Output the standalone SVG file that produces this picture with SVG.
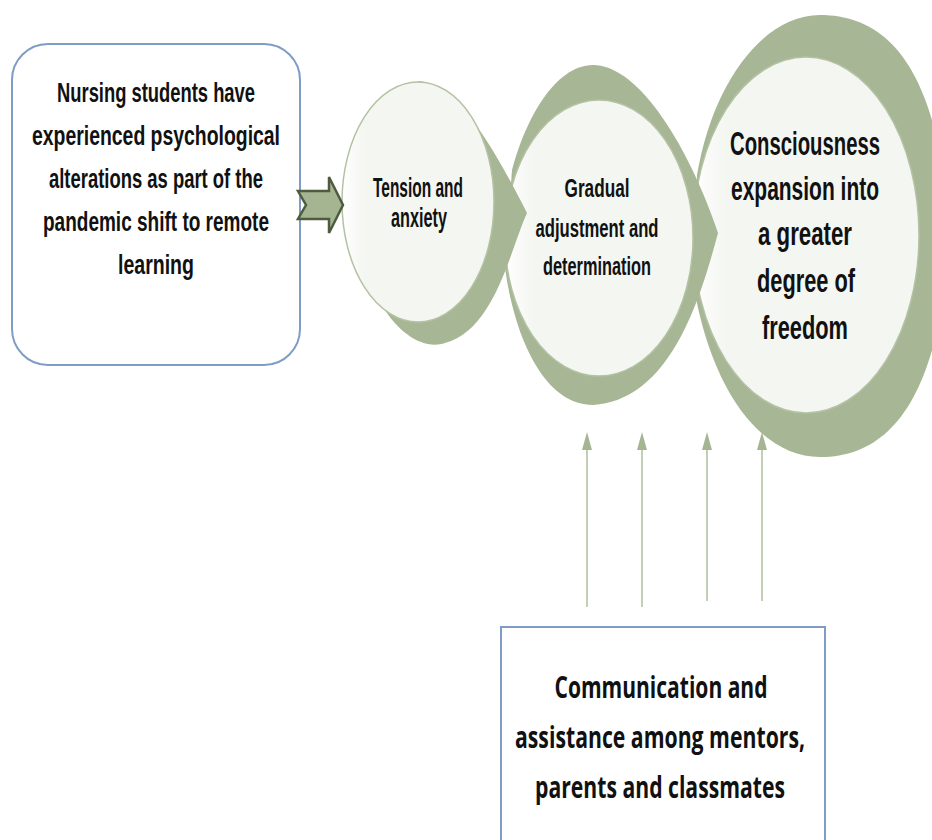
<svg xmlns="http://www.w3.org/2000/svg" width="932" height="840" viewBox="0 0 932 840">
  <style>
    .green { fill: #a7b694; stroke: none; }
    .light { fill: url(#lightFill); stroke: #b4c2a3; stroke-width: 1.5; }
    .t { font-family: "Liberation Sans", Arial, sans-serif; font-weight: bold; fill: #111; text-anchor: middle; }
    .t2 { font-family: "Open Sans", "Liberation Sans", Arial, sans-serif; font-weight: bold; fill: #111; text-anchor: middle; }
    .box { fill: #ffffff; stroke: #7f9cc6; stroke-width: 2; }
    .vline { stroke: #c4cfb7; stroke-width: 2; fill: none; }
  </style>
  <defs>
    <linearGradient id="lightFill" x1="0" y1="0" x2="1" y2="0">
      <stop offset="0" stop-color="#ffffff"/>
      <stop offset="0.15" stop-color="#f4f6f1"/>
      <stop offset="1" stop-color="#f4f6f1"/>
    </linearGradient>
    <marker id="head" viewBox="0 0 18 10" markerWidth="18" markerHeight="10" refX="0" refY="5" orient="auto" markerUnits="userSpaceOnUse">
      <path d="M0,0 L18,5 L0,10 Z" fill="#a5b592"/>
    </marker>
  </defs>
  <rect width="932" height="840" fill="#ffffff"/>

  <g id="node-source">
    <rect class="box" x="12" y="44" width="288" height="321" rx="36" ry="36"/>
    <text class="t" font-size="28" x="156" y="102" textLength="198" lengthAdjust="spacingAndGlyphs">Nursing students have</text>
    <text class="t" font-size="28" x="156" y="145" textLength="248" lengthAdjust="spacingAndGlyphs">experienced psychological</text>
    <text class="t" font-size="28" x="156" y="188" textLength="214" lengthAdjust="spacingAndGlyphs">alterations as part of the</text>
    <text class="t" font-size="28" x="156" y="231" textLength="226" lengthAdjust="spacingAndGlyphs">pandemic shift to remote</text>
    <text class="t" font-size="28" x="156" y="274" textLength="76" lengthAdjust="spacingAndGlyphs">learning</text>
  </g>

  <g id="node-freedom">
    <path class="green" d="M820,15 C895,15 940,80 950,235 C940,390 895,457 820,457 C760,457 712,390 694,288 L697,175 C712,85 762,15 820,15 Z"/>
    <ellipse class="light" cx="806" cy="235" rx="113" ry="178"/>
    <text class="t" font-size="34" x="805" y="155" textLength="150" lengthAdjust="spacingAndGlyphs">Consciousness</text>
    <text class="t" font-size="34" x="805" y="200" textLength="148" lengthAdjust="spacingAndGlyphs">expansion into</text>
    <text class="t" font-size="34" x="805" y="245" textLength="94" lengthAdjust="spacingAndGlyphs">a greater</text>
    <text class="t" font-size="34" x="806" y="292" textLength="98" lengthAdjust="spacingAndGlyphs">degree of</text>
    <text class="t" font-size="34" x="805" y="339" textLength="86" lengthAdjust="spacingAndGlyphs">freedom</text>
  </g>

  <g id="node-adjustment">
    <path class="green" d="M593,65 C640,65 690,150 718,233 C700,300 670,400 593,405 C545,405 515,340 505,268 L512,170 C525,120 555,65 593,65 Z"/>
    <ellipse class="light" cx="599" cy="238" rx="94" ry="138"/>
    <text class="t" font-size="25" x="597" y="197" textLength="65" lengthAdjust="spacingAndGlyphs">Gradual</text>
    <text class="t" font-size="25" x="597" y="237" textLength="123" lengthAdjust="spacingAndGlyphs">adjustment and</text>
    <text class="t" font-size="25" x="597" y="275" textLength="108" lengthAdjust="spacingAndGlyphs">determination</text>
  </g>

  <g id="node-tension">
    <path class="green" d="M418,81 C455,83 490,140 527,213 C510,250 495,330 445,343 C425,350 400,335 383,307 L400,200 Z"/>
    <ellipse class="light" cx="418" cy="202" rx="76" ry="120"/>
    <text class="t" font-size="27" x="418" y="197" textLength="90" lengthAdjust="spacingAndGlyphs">Tension and</text>
    <text class="t" font-size="27" x="419" y="227" textLength="56" lengthAdjust="spacingAndGlyphs">anxiety</text>
  </g>

  <g id="node-support">
    <rect class="box" x="501" y="627" width="324" height="230"/>
    <text class="t2" font-size="30" x="661" y="698" textLength="213" lengthAdjust="spacingAndGlyphs">Communication and</text>
    <text class="t2" font-size="30" x="660" y="748" textLength="290" lengthAdjust="spacingAndGlyphs">assistance among mentors,</text>
    <text class="t2" font-size="30" x="660" y="798" textLength="250" lengthAdjust="spacingAndGlyphs">parents and classmates</text>
  </g>

  <g id="connectors">
    <polygon points="298,191 329,191 329,177 343,205 329,233 329,219 298,219 306,205" fill="#a5b592" stroke="#4e5b3e" stroke-width="2.5" stroke-linejoin="miter"/>
    <line class="vline" x1="587" y1="607" x2="587" y2="450" marker-end="url(#head)"/>
    <line class="vline" x1="642" y1="607" x2="642" y2="450" marker-end="url(#head)"/>
    <line class="vline" x1="707" y1="601" x2="707" y2="450" marker-end="url(#head)"/>
    <line class="vline" x1="762" y1="601" x2="762" y2="450" marker-end="url(#head)"/>
  </g>
</svg>
